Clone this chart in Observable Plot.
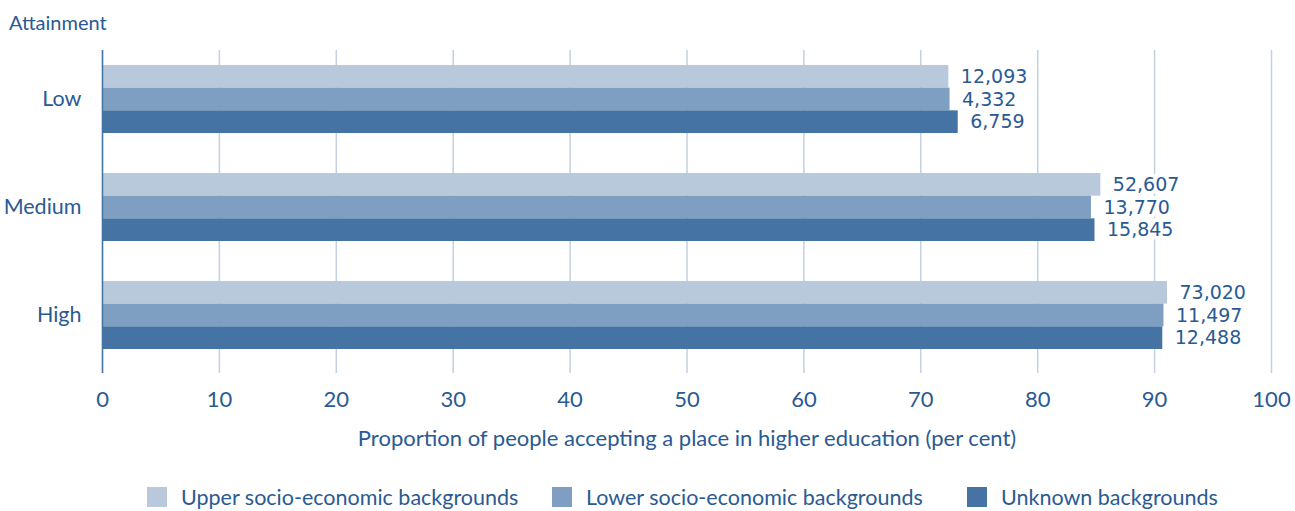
<!DOCTYPE html>
<html>
<head>
<meta charset="utf-8">
<script src="https://cdn.jsdelivr.net/npm/d3@7"></script>
<script src="https://cdn.jsdelivr.net/npm/@observablehq/plot@0.6"></script>
<style>
  html, body { margin: 0; padding: 0; background: #fff; }
  body { width: 1295px; height: 511px; overflow: hidden; font-family: Lato, "Open Sans", sans-serif; color: #2a5a92; }
  #title { height: 40px; font-size: 20px; padding-left: 9px; line-height: 44px; }
  #legend { position: relative; height: 41px; font-size: 21.5px; }
  .item { position: absolute; top: 16px; display: flex; align-items: center; height: 22px; }
  .sw { width: 20px; height: 20px; margin-right: 14px; }
</style>
</head>
<body>
<div id="title">Attainment</div>
<div id="chart"></div>
<div id="legend"></div>
<script>
const attainment = ["Low", "Medium", "High"];
const seriesNames = ["Upper socio-economic backgrounds", "Lower socio-economic backgrounds", "Unknown backgrounds"];
const seriesColors = ["#b8c9dc", "#7f9fc2", "#4573a4"];
const upperValues = [72.4, 85.4, 91.1];
const lowerValues = [72.5, 84.6, 90.8];
const unknownValues = [73.2, 84.9, 90.7];
const upperCounts = ["12,093", "52,607", "73,020"];
const lowerCounts = ["4,332", "13,770", "11,497"];
const unknownCounts = ["6,759", "15,845", "12,488"];
const xTicks = [0, 10, 20, 30, 40, 50, 60, 70, 80, 90, 100];

const seriesValues = [upperValues, lowerValues, unknownValues];
const seriesCounts = [upperCounts, lowerCounts, unknownCounts];
const rows = seriesValues.map((vals, s) => attainment.map((a, i) => ({attainment: a, series: s, value: vals[i], count: seriesCounts[s][i]})));

const textColor = "#2a5a92";
const bw = 68;
const barH = bw / 3;

const marks = [
  Plot.gridX(xTicks, {stroke: "#c3d0e0", strokeOpacity: 1, strokeWidth: 1.5})
];
rows.forEach((data, s) => {
  marks.push(Plot.barX(data, {
    x: "value", y: "attainment", fill: seriesColors[s],
    insetTop: s * barH, insetBottom: (2 - s) * barH
  }));
});
rows.forEach((data, s) => {
  marks.push(Plot.text(data, {
    x: "value", y: "attainment", text: "count",
    dx: 12, dy: (s - 1) * barH, textAnchor: "start",
    fill: textColor, fontSize: 19, fontFamily: "'DejaVu Sans', sans-serif",
    stroke: "white", strokeWidth: 8, paintOrder: "stroke"
  }));
});
marks.push(Plot.ruleX([0], {stroke: "#4573a4", strokeWidth: 1.5}));
marks.push(Plot.axisX(xTicks, {
  tickSize: 0, tickPadding: 18, fontSize: 22, color: textColor,
  label: "Proportion of people accepting a place in higher education (per cent)",
  labelAnchor: "center", labelOffset: 72, labelArrow: false
}));
marks.push(Plot.axisY({tickSize: 0, tickPadding: 21, fontSize: 21.5, color: textColor, label: null}));

const chart = Plot.plot({
  width: 1295,
  height: 430,
  marginTop: 10,
  marginBottom: 97,
  marginLeft: 102,
  marginRight: 24,
  style: {fontFamily: "Lato, 'Open Sans', sans-serif", color: textColor, background: "white"},
  x: {domain: [0, 100]},
  y: {domain: attainment, range: [24, 309], paddingInner: 0.373, paddingOuter: 0},
  marks
});
document.getElementById("chart").appendChild(chart);

const legendLefts = [147, 552, 967];
const legend = document.getElementById("legend");
seriesNames.forEach((name, i) => {
  const item = document.createElement("div");
  item.className = "item";
  item.style.left = legendLefts[i] + "px";
  const sw = document.createElement("div");
  sw.className = "sw";
  sw.style.background = seriesColors[i];
  const lab = document.createElement("span");
  lab.textContent = name;
  item.appendChild(sw);
  item.appendChild(lab);
  legend.appendChild(item);
});
</script>
</body>
</html>
